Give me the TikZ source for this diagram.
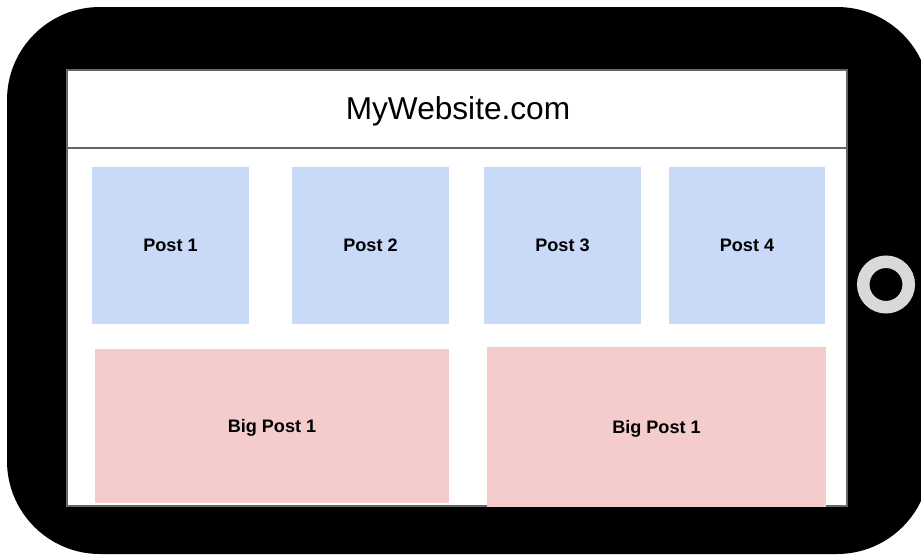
\documentclass[tikz,border=0pt]{standalone}
\usepackage{fontspec}
\setmainfont{Liberation Sans}
\usetikzlibrary{positioning}
\colorlet{border}{black}
\colorlet{frame}{black!60}
\definecolor{postblue}{HTML}{C9DAF8}
\definecolor{postpink}{HTML}{F4CCCC}
\definecolor{button}{HTML}{D9D9D9}
\newcommand\postsize{3.13}
\newcommand\bodyradius{1.86}

\begin{document}
\begin{tikzpicture}[x=0.02cm, y=-0.02cm]
    \useasboundingbox (0, 0) rectangle (921, 558);
    \clip (0, 0) rectangle (921, 558);

    \tikzset{
        small post/.style={
            fill=postblue, rectangle,
            minimum width={\postsize cm},
            minimum height={\postsize cm},
            inner sep=0pt, text depth=0pt,
            font=\fontsize{10.3}{12}\selectfont\bfseries,
        },
        big post/.style={
            fill=postpink, rectangle,
            inner sep=0pt, text depth=0pt,
            font=\fontsize{10.3}{12}\selectfont\bfseries,
        },
    }

    % Tablet
    \fill[border, rounded corners=\bodyradius cm]
        (7, 7) rectangle (930, 554);

    \draw[frame, fill=white, line width=0.6pt]
        (67, 70) coordinate (screen-tl)
        rectangle (847, 506) coordinate (screen-br);

    \coordinate (home) at (886, 284.5);
    \draw[button, line width=0.25cm] (home) circle (22.75);

    % Header
    \draw[frame, line width=1pt] (67, 148) -- (847, 148);
    \node[font=\fontsize{18}{22}\selectfont] (title) at (458, 111) {MyWebsite.com};

    % Posts
    \node[small post] (post-1) at (170.5, 245.5) {Post 1};
    \node[small post] (post-2) at (370.5, 245.5) {Post 2};
    \node[small post] (post-3) at (562.5, 245.5) {Post 3};
    \node[small post] (post-4) at (747, 245.5) {Post 4};

    \node[big post, minimum width=7.08cm, minimum height=3.1cm]
        (big-post-1) at (272, 426) {Big Post 1};
    \node[big post, minimum width=6.78cm, minimum height=3.2cm]
        (big-post-2) at (656.5, 427) {Big Post 1};
\end{tikzpicture}
\end{document}
